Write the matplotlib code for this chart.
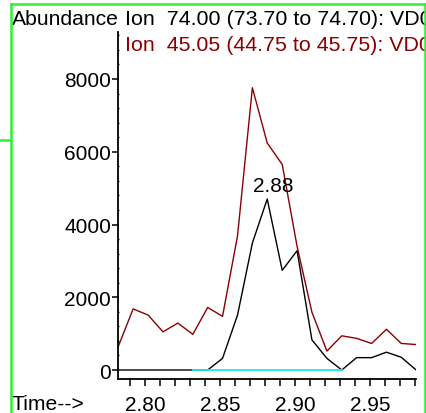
import matplotlib
matplotlib.use("Agg")
import matplotlib.pyplot as plt
from matplotlib.patches import Rectangle
from matplotlib.lines import Line2D
from matplotlib.ticker import MultipleLocator, FixedLocator

plt.rcParams['font.family'] = ['Liberation Sans', 'DejaVu Sans']

# retention time (min)
times = [2.7822, 2.7921, 2.8021, 2.8120, 2.8219, 2.8319, 2.8418, 2.8517,
         2.8617, 2.8716, 2.8815, 2.8915, 2.9014, 2.9113, 2.9213, 2.9312,
         2.9411, 2.9511, 2.9610, 2.9709, 2.9808]
ion74 = [0, 0, 0, 0, 0, 0, 0, 320, 1510, 3490, 4700, 2740, 3280, 830,
         320, 0, 340, 340, 490, 350, 0]
ion45 = [650, 1680, 1510, 1050, 1290, 980, 1720, 1475, 3690, 7760, 6240,
         5650, 3400, 1590, 520, 940, 870, 730, 1120, 730, 700]
baseline_start, baseline_end = 5, 15
peak_label = "2.88"
title1 = "Ion  74.00 (73.70 to 74.70): VD0"
title2 = "Ion  45.05 (44.75 to 45.75): VD0"

W, H = 427, 414
fig = plt.figure(figsize=(W / 100, H / 100), dpi=100)

def fx(px):
    return px / W

def fy(py):
    return 1 - py / H

ax = fig.add_axes([fx(118), fy(380), fx(416) - fx(118), fy(33) - fy(380)])
ax.plot(times, ion45, color='#8b0000', lw=1.0)
ax.plot(times, ion74, color='black', lw=1.0)
ax.plot(times[baseline_start:baseline_end + 1],
        [0] * (baseline_end - baseline_start + 1), color='#22e8e8', lw=1.3)

pk = ion74.index(max(ion74))
ax.annotate(peak_label, (times[pk], ion74[pk]), xytext=(4, 3),
            textcoords='offset points', ha='center', va='bottom', fontsize=15)

ax.set_xlim(2.782, 2.9807)
ax.set_ylim(-247, 9292)
for s in ['top', 'right']:
    ax.spines[s].set_visible(False)
ax.spines['left'].set_linewidth(1.3)
ax.spines['bottom'].set_linewidth(1.3)

ax.xaxis.set_major_locator(FixedLocator([2.80, 2.85, 2.90, 2.95]))
ax.xaxis.set_minor_locator(MultipleLocator(0.01))
ax.set_xticklabels(['2.80', '2.85', '2.90', '2.95'])
ax.yaxis.set_major_locator(MultipleLocator(2000))
ax.yaxis.set_minor_locator(MultipleLocator(400))
ax.tick_params(axis='x', which='both', length=5, width=1.1, pad=6.5, labelsize=15)
ax.tick_params(axis='y', which='major', length=4, width=1.1, pad=1, labelsize=15)
ax.tick_params(axis='y', which='minor', length=2, width=1.0, direction='inout')

fig.text(fx(12), fy(25), "Abundance", fontsize=15.2, ha='left', va='baseline')
fig.text(fx(125), fy(25), title1, fontsize=15.4, ha='left', va='baseline')
fig.text(fx(125), fy(51), title2, fontsize=15.4, color='#8b0000',
         ha='left', va='baseline')
fig.text(fx(12), fy(410), "Time-->", fontsize=15.2, ha='left', va='baseline')

# clip header text at the frame, then the green frame
fig.patches.append(Rectangle((fx(426), 0), 1, 1, transform=fig.transFigure,
                             facecolor='white', edgecolor='none', zorder=10))
green = '#33ee33'
for xs, ys in [([fx(11.3), fx(11.3)], [0, fy(4.5)]),
               ([fx(11.3), fx(425.5)], [fy(4.5), fy(4.5)]),
               ([fx(425.5), fx(425.5)], [fy(4.5), 0]),
               ([0, fx(10)], [fy(141), fy(141)])]:
    fig.lines.append(Line2D(xs, ys, transform=fig.transFigure, color=green,
                            lw=1.8, zorder=11))

fig.savefig("out.png", dpi=100)
